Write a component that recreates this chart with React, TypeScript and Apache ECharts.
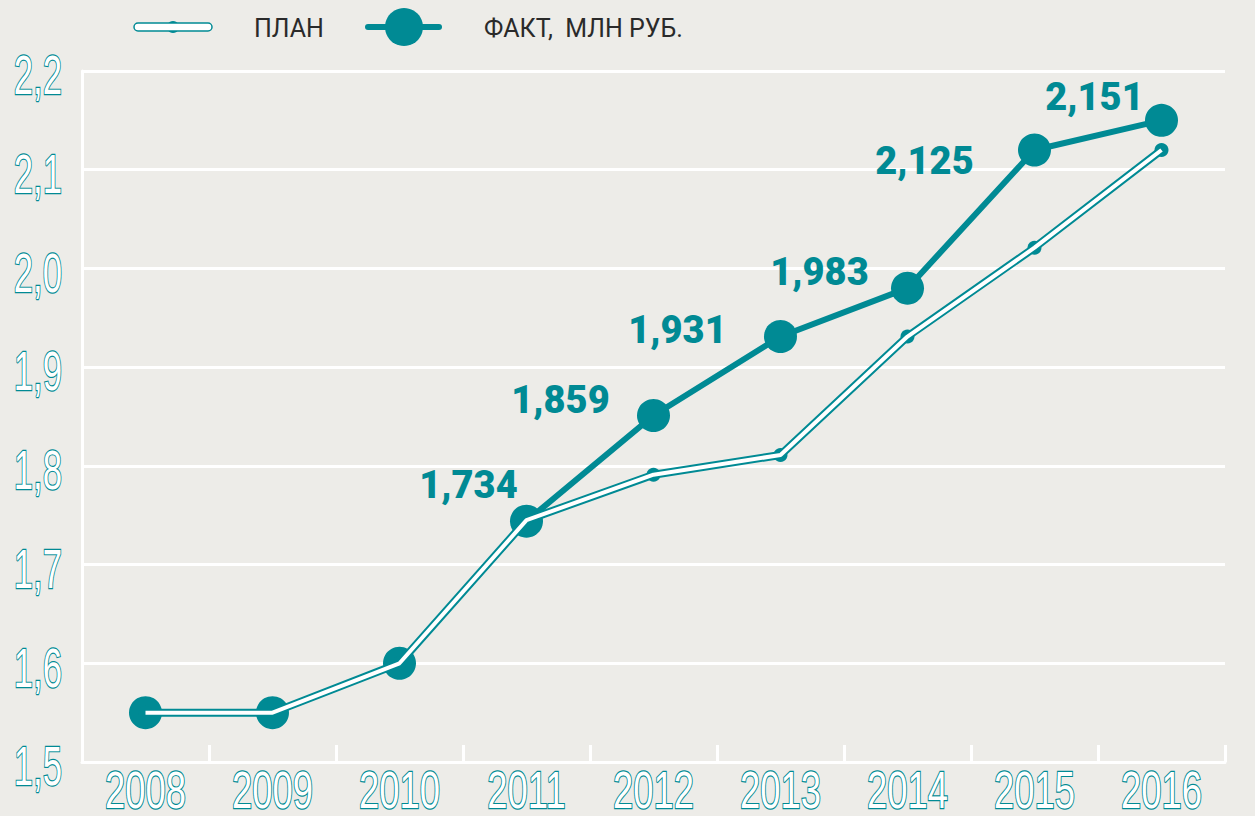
import React, { useEffect, useRef } from "react";
import * as echarts from "echarts";

const years = ["2008", "2009", "2010", "2011", "2012", "2013", "2014", "2015", "2016"];
const planValues = [1.55, 1.55, 1.6, 1.745, 1.791, 1.811, 1.931, 2.021, 2.12];
const factValues = [1.55, 1.55, 1.6, 1.744, 1.851, 1.931, 1.98, 2.12, 2.15];
const planLabels = ["", "", "", "", "1,796", "1,812", "1,931", "2,027", "2,128"];
const factLabels = ["", "", "", "1,734", "1,859", "1,931", "1,983", "2,125", "2,151"];
const yTicks = [1.5, 1.6, 1.7, 1.8, 1.9, 2.0, 2.1, 2.2];
const yTickLabels = ["1,5", "1,6", "1,7", "1,8", "1,9", "2,0", "2,1", "2,2"];
const legendPlan = "ПЛАН";
const legendFact = "ФАКТ,  МЛН РУБ.";

const factLabelOffsets = [[0, 0], [0, 0], [0, 0], [-58, -36], [-93, -16], [-103, -7], [-88, -16], [-110, 11], [-67, -23]];
const planLabelOffsets = [[0, 0], [0, 0], [0, 0], [0, 0], [50, 43], [74, 19], [61, 19], [61, 22], [46, 36]];

const TEAL = "#008A94";
const BG = "#EDECE8";

export default function App() {
  const ref = useRef<HTMLDivElement>(null);
  useEffect(() => {
    document.body.style.margin = "0";
    const chart = echarts.init(ref.current!, null, { renderer: "svg" });
    const sans = "'Liberation Sans', Arial, sans-serif";
    const heavy = "Roboto, 'Liberation Sans', Arial, sans-serif";
    const factData = factValues.map((v, i) => ({
      value: v,
      label: factLabels[i]
        ? { show: true, formatter: factLabels[i], offset: factLabelOffsets[i] }
        : { show: false },
    }));
    const planData = planValues.map((v, i) => ({
      value: v,
      label: planLabels[i]
        ? { show: true, formatter: planLabels[i], offset: planLabelOffsets[i] }
        : { show: false },
    }));
    chart.setOption({
      animation: false,
      backgroundColor: BG,
      grid: { left: 82, right: 30, top: 71, bottom: 54, containLabel: false, outerBoundsMode: "none" },
      xAxis: {
        type: "category",
        data: years,
        boundaryGap: true,
        axisLine: { show: true, lineStyle: { color: "#ffffff", width: 3 } },
        axisTick: { show: true, inside: true, length: 17, lineStyle: { color: "#ffffff", width: 3 } },
        axisLabel: { show: false },
        splitLine: { show: false },
      },
      yAxis: {
        type: "value",
        min: yTicks[0],
        max: yTicks[yTicks.length - 1],
        interval: 0.1,
        axisLine: { show: true, lineStyle: { color: "#ffffff", width: 3 } },
        axisTick: { show: false },
        axisLabel: { show: false },
        splitLine: { show: true, lineStyle: { color: "#ffffff", width: 3 } },
      },
      series: [
        {
          name: legendFact,
          type: "line",
          data: factData,
          symbol: "circle",
          symbolSize: 33,
          itemStyle: { color: TEAL },
          lineStyle: { color: TEAL, width: 6 },
          label: {
            position: "inside",
            fontFamily: heavy,
            fontWeight: 900,
            fontSize: 38,
            color: TEAL,
          },
          z: 2,
        },
        {
          name: legendPlan,
          type: "line",
          data: planValues,
          symbol: "circle",
          symbolSize: 14,
          itemStyle: { color: TEAL },
          lineStyle: { color: TEAL, width: 8 },
          z: 3,
        },
        {
          name: legendPlan + " ",
          type: "line",
          data: planData,
          symbol: "none",
          showSymbol: false,
          lineStyle: { color: "#ffffff", width: 4 },
          label: {
            show: true,
            position: "inside",
            fontFamily: heavy,
            fontWeight: 900,
            fontSize: 34,
            color: "#ffffff",
            textBorderColor: TEAL,
            textBorderWidth: 2,
          },
          z: 4,
        },
      ],
    });

    const axisTextStyle = {
      fontFamily: sans,
      fill: "#ffffff",
      stroke: TEAL,
      lineWidth: 2.4,
      verticalAlign: "middle",
    };
    const xLabelGraphics = years.map((y) => {
      const px = chart.convertToPixel({ xAxisIndex: 0 }, y) as number;
      const axisY = chart.convertToPixel({ yAxisIndex: 0 }, yTicks[0]) as number;
      return {
        type: "text",
        x: px,
        y: axisY + 28,
        scaleX: 0.7,
        style: { ...axisTextStyle, text: y, fontSize: 52, lineHeight: 44, align: "center" },
      };
    });
    const yLabelGraphics = yTicks.map((t, i) => {
      const py = chart.convertToPixel({ yAxisIndex: 0 }, t) as number;
      return {
        type: "text",
        x: 62,
        y: py + 4,
        scaleX: 0.62,
        style: { ...axisTextStyle, text: yTickLabels[i], fontSize: 56, align: "right" },
      };
    });

    chart.setOption({
      graphic: [
        ...xLabelGraphics,
        ...yLabelGraphics,
        { type: "circle", shape: { cx: 173, cy: 27, r: 6 }, style: { fill: TEAL } },
        {
          type: "rect",
          shape: { x: 134, y: 23, width: 78, height: 8, r: 4 },
          style: { fill: "#ffffff", stroke: TEAL, lineWidth: 1.5 },
        },
        {
          type: "text",
          x: 254,
          y: 28,
          style: {
            text: legendPlan,
            fontFamily: "Roboto, sans-serif",
            fontSize: 25,
            fill: "#2a2a2a",
            verticalAlign: "middle",
          },
        },
        {
          type: "line",
          shape: { x1: 368, y1: 27, x2: 439, y2: 27 },
          style: { stroke: TEAL, lineWidth: 6, lineCap: "round" },
        },
        { type: "circle", shape: { cx: 404, cy: 27, r: 19 }, style: { fill: TEAL } },
        {
          type: "text",
          x: 484,
          y: 28,
          style: {
            text: legendFact,
            fontFamily: "Roboto, sans-serif",
            fontSize: 25,
            fill: "#2a2a2a",
            verticalAlign: "middle",
          },
        },
      ],
    });
    return () => chart.dispose();
  }, []);
  return <div ref={ref} style={{ width: 1255, height: 816 }} />;
}
